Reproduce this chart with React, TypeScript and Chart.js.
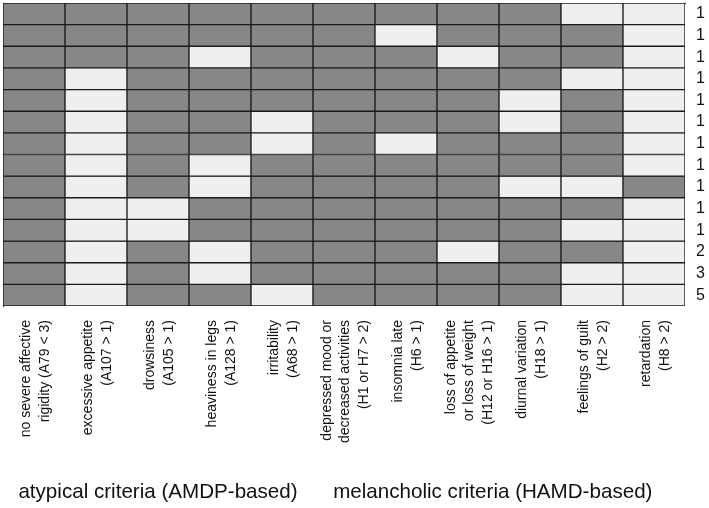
import React, { useEffect, useRef } from "react";
import { Chart, registerables } from "chart.js";

Chart.register(...registerables);

const criteria: string[][] = [
  ["no severe affective", "rigidity (A79 < 3)"],
  ["excessive appetite", "(A107 > 1)"],
  ["drowsiness", "(A105 > 1)"],
  ["heaviness in legs", "(A128 > 1)"],
  ["irritability", "(A68 > 1)"],
  ["depressed mood or", "decreased activities", "(H1 or H7 > 2)"],
  ["insomnia late", "(H6 > 1)"],
  ["loss of appetite", "or loss of weight", "(H12 or H16 > 1)"],
  ["diurnal variation", "(H18 > 1)"],
  ["feelings of guilt", "(H2 > 2)"],
  ["retardation", "(H8 > 2)"],
];

// 1 = dark cell, 0 = light cell; one array per pattern row (top to bottom)
const pattern01 = [1, 1, 1, 1, 1, 1, 1, 1, 1, 0, 0];
const pattern02 = [1, 1, 1, 1, 1, 1, 0, 1, 1, 1, 0];
const pattern03 = [1, 1, 1, 0, 1, 1, 1, 0, 1, 1, 0];
const pattern04 = [1, 0, 1, 1, 1, 1, 1, 1, 1, 0, 0];
const pattern05 = [1, 0, 1, 1, 1, 1, 1, 1, 0, 1, 0];
const pattern06 = [1, 0, 1, 1, 0, 1, 1, 1, 0, 1, 0];
const pattern07 = [1, 0, 1, 1, 0, 1, 0, 1, 1, 1, 0];
const pattern08 = [1, 0, 1, 0, 1, 1, 1, 1, 1, 1, 0];
const pattern09 = [1, 0, 1, 0, 1, 1, 1, 1, 0, 0, 1];
const pattern10 = [1, 0, 0, 1, 1, 1, 1, 1, 1, 1, 0];
const pattern11 = [1, 0, 0, 1, 1, 1, 1, 1, 1, 0, 0];
const pattern12 = [1, 0, 1, 0, 1, 1, 1, 0, 1, 1, 0];
const pattern13 = [1, 0, 1, 0, 1, 1, 1, 1, 1, 0, 0];
const pattern14 = [1, 0, 1, 1, 0, 1, 1, 1, 1, 0, 0];

const patterns = [
  pattern01, pattern02, pattern03, pattern04, pattern05, pattern06, pattern07,
  pattern08, pattern09, pattern10, pattern11, pattern12, pattern13, pattern14,
];

const rowCounts = ["1", "1", "1", "1", "1", "1", "1", "1", "1", "1", "1", "2", "3", "5"];

const groupLabels = ["atypical criteria (AMDP-based)", "melancholic criteria (HAMD-based)"];

const DARK = "#878787";
const LIGHT = "#efefef";
const LINE = "#1a1a1a";
const TEXT = "#111";
const FONT = "'Liberation Sans', Arial, Helvetica, sans-serif";

// Draws the multi-line rotated category labels (centred on each column) and the group captions
const labelPlugin = {
  id: "criteriaLabels",
  afterDraw(chart: any) {
    const ctx = chart.ctx;
    const x = chart.scales.x;
    const top = x.top + 14;
    const lh = 18.3;
    ctx.save();
    ctx.fillStyle = TEXT;
    ctx.font = `14px ${FONT}`;
    ctx.textAlign = "right";
    ctx.textBaseline = "middle";
    criteria.forEach((lines, i) => {
      const px = x.getPixelForValue(i);
      const n = lines.length;
      lines.forEach((line, j) => {
        const cx = px + (j - (n - 1) / 2) * lh + 1.5;
        ctx.save();
        ctx.translate(cx, top);
        ctx.rotate(-Math.PI / 2);
        ctx.fillText(line, 0, 0);
        ctx.restore();
      });
    });
    const centers = [x.getPixelForValue(2), x.getPixelForValue(7.4)];
    ctx.font = `20.6px ${FONT}`;
    ctx.textAlign = "center";
    ctx.textBaseline = "middle";
    groupLabels.forEach((t, i) => ctx.fillText(t, centers[i], 492));
    ctx.restore();
  },
};

const zeroPad = (s: any) => {
  s.paddingTop = 0;
  s.paddingBottom = 0;
  s.paddingLeft = 0;
  s.paddingRight = 0;
};

export default function App() {
  const ref = useRef<HTMLCanvasElement | null>(null);
  useEffect(() => {
    if (!ref.current) return;
    const datasets = patterns.map((row, r) => ({
      label: "pattern " + (r + 1),
      data: row.map(() => 1),
      backgroundColor: row.map((v) => (v ? DARK : LIGHT)),
      borderColor: LINE,
      borderWidth: 1,
      borderSkipped: false as any,
      barPercentage: 1,
      categoryPercentage: 1,
      stack: "s",
    }));
    const chart = new Chart(ref.current, {
      type: "bar",
      data: { labels: criteria.map((c) => c.join(" ")), datasets },
      plugins: [labelPlugin],
      options: {
        animation: false,
        responsive: true,
        maintainAspectRatio: false,
        layout: { padding: { top: 3, left: 3, right: 0, bottom: 0 } },
        plugins: { legend: { display: false }, tooltip: { enabled: false } },
        scales: {
          x: {
            stacked: true,
            grid: { display: false },
            border: { display: false },
            ticks: { display: false },
            afterFit: (s: any) => {
              s.height = 202;
              zeroPad(s);
            },
          },
          xTop: {
            type: "category",
            position: "top",
            labels: criteria.map((c) => c.join(" ")),
            grid: { display: false, drawTicks: false },
            border: { display: true, color: LINE, width: 1 },
            ticks: { display: false },
            afterFit: (s: any) => {
              s.height = 0;
              zeroPad(s);
            },
          },
          y: {
            stacked: true,
            min: 0,
            max: 14,
            reverse: true,
            grid: { display: false, drawTicks: false },
            border: { display: true, color: LINE, width: 1 },
            ticks: { display: false },
            afterFit: (s: any) => {
              s.width = 0;
              zeroPad(s);
            },
          },
          y2: {
            type: "category",
            position: "right",
            labels: rowCounts,
            offset: true,
            grid: { display: false, drawTicks: false },
            border: { display: false },
            ticks: {
              padding: 11,
              color: TEXT,
              font: { family: FONT, size: 16 },
              autoSkip: false,
            },
            afterFit: (s: any) => {
              s.width = 24;
              zeroPad(s);
            },
          },
        },
      },
    });
    return () => chart.destroy();
  }, []);
  return (
    <div style={{ position: "absolute", left: 0, top: 0, width: 709, height: 508, background: "#fff" }}>
      <canvas ref={ref} />
    </div>
  );
}
